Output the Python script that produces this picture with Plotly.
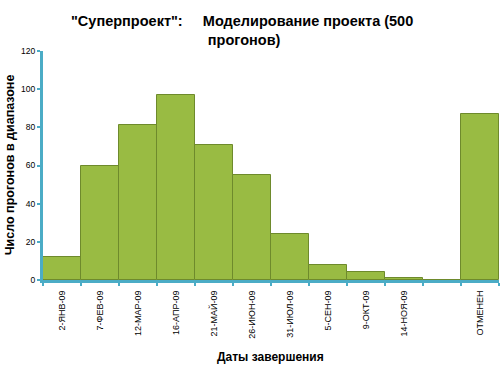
import plotly.graph_objects as go

categories = ["2-ЯНВ-09", "7-ФЕВ-09", "12-МАР-09", "16-АПР-09", "21-МАЙ-09", "26-ИЮН-09",
              "31-ИЮЛ-09", "5-СЕН-09", "9-ОКТ-09", "14-НОЯ-09", "", "ОТМЕНЕН"]
runs = [12, 60, 81, 97, 71, 55, 24, 8, 4, 1, 0, 87]
y_ticks = [0, 20, 40, 60, 80, 100, 120]

positions = list(range(len(categories)))
boundaries = [p - 0.5 for p in positions] + [positions[-1] + 0.5]

axis_color = "#4bacc6"
font_family = "Liberation Sans, Arial, sans-serif"

fig = go.Figure()
fig.add_trace(go.Bar(
    x=positions, y=runs, width=1.0,
    marker=dict(color="#99bb43", line=dict(color="#6e8a2c", width=1)),
    showlegend=False, hoverinfo="skip",
))

fig.update_layout(
    width=503, height=370,
    margin=dict(l=43, r=4, t=51, b=90, autoexpand=False),
    paper_bgcolor="white", plot_bgcolor="white",
    font=dict(family=font_family, color="black"),
    bargap=0,
    annotations=[
        dict(text='"Суперпроект":     Моделирование проекта (500<br> прогонов)',
             x=0.436, y=1.175, xref="paper", yref="paper", xanchor="center", yanchor="top",
             showarrow=False, align="center",
             font=dict(size=14.5, family=font_family, weight="bold")),
        dict(text="Число прогонов в диапазоне", textangle=-90,
             x=-0.072, y=0.502, xref="paper", yref="paper", xanchor="center", yanchor="middle",
             showarrow=False, font=dict(size=12.5, family=font_family, weight="bold")),
        dict(text="Даты завершения",
             x=0.498, y=-0.336, xref="paper", yref="paper", xanchor="center", yanchor="middle",
             showarrow=False, font=dict(size=12, family=font_family, weight="bold")),
    ],
)

fig.update_xaxes(
    range=[-0.5, len(categories) - 0.5], automargin=False,
    tickvals=positions, ticktext=categories, tickangle=-90,
    ticks="", showgrid=False, zeroline=False, ticklabelstandoff=4,
    showline=True, linecolor=axis_color, linewidth=3,
    tickfont=dict(size=9, family=font_family),
    minor=dict(tickvals=boundaries, ticks="outside", ticklen=3, tickcolor=axis_color, tickwidth=2, showgrid=False),
)
fig.update_yaxes(
    range=[0, 120], tickvals=y_ticks, automargin=False,
    ticks="outside", ticklen=3, tickcolor=axis_color, tickwidth=2,
    showgrid=False, zeroline=False,
    showline=True, linecolor=axis_color, linewidth=3,
    tickfont=dict(size=8.5, family=font_family),
)

fig.write_html("out.html", config={"displayModeBar": False},
               post_script="document.body.style.margin='0px';")
